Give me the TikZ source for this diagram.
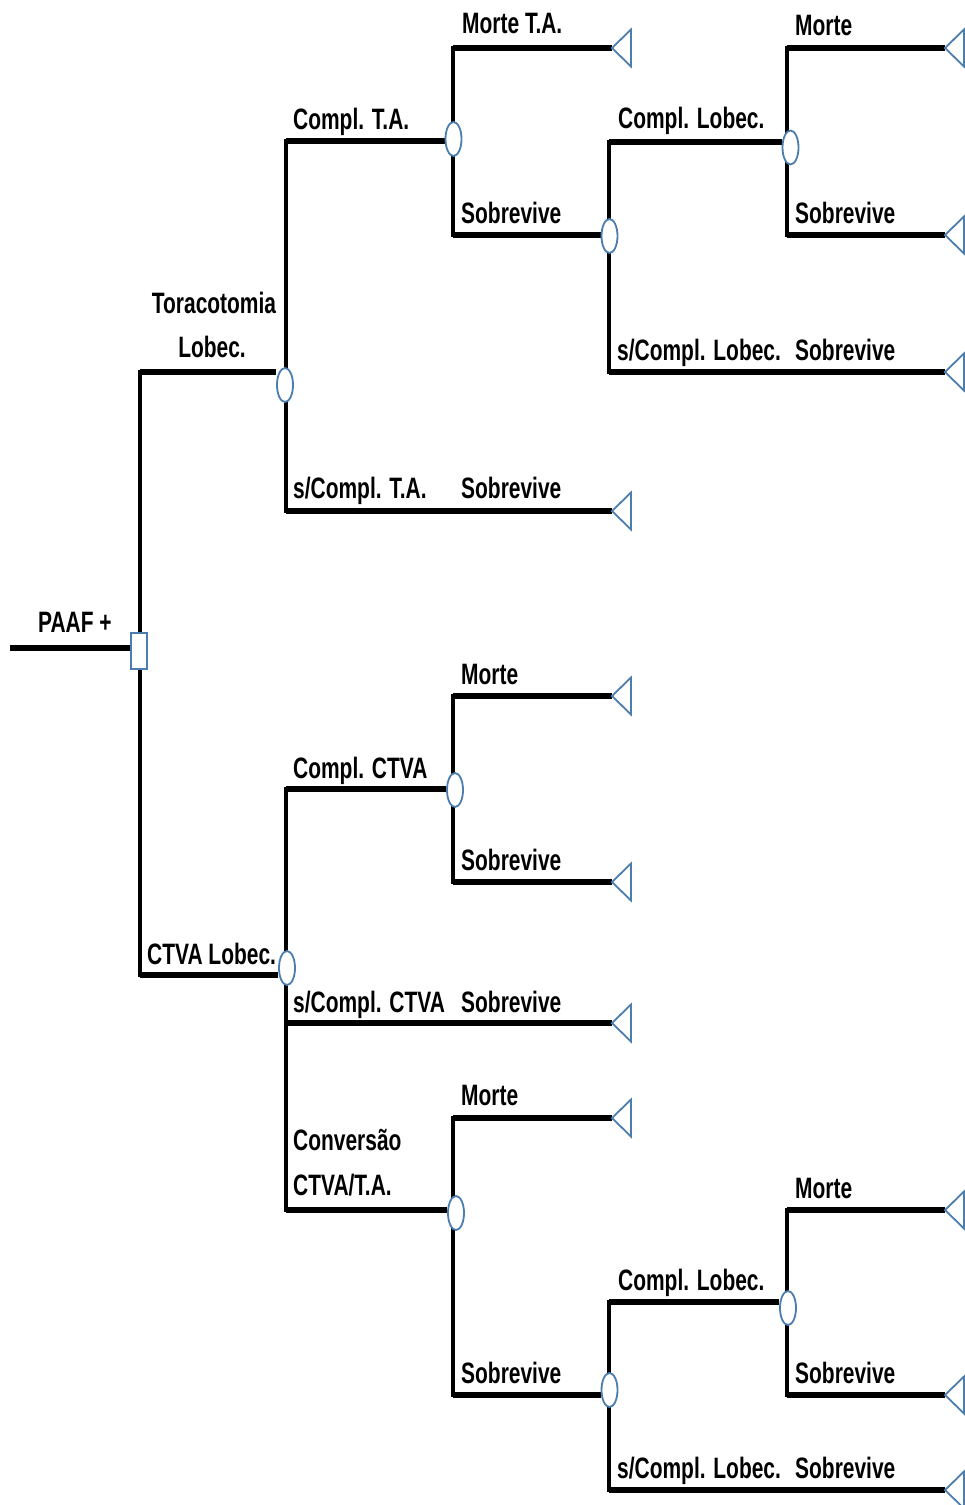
\documentclass[tikz,border=0pt]{standalone}
\usepackage{fontspec}
\newfontfamily\lblfont{Liberation Sans Bold}[FakeStretch=0.71]
\usetikzlibrary{shapes.geometric,backgrounds}
\definecolor{nodeblue}{RGB}{75,125,175}
\tikzset{
  hl/.style={line width=5.5pt},
  vl/.style={line width=4pt,line cap=rect},
  chance/.style={ellipse,draw=nodeblue,line width=1.8pt,fill=white,minimum width=16pt,minimum height=34pt,inner sep=0pt},
  decision/.style={rectangle,draw=nodeblue,line width=1.8pt,fill=white,minimum width=16pt,minimum height=36pt,inner sep=0pt},
  term/.style={draw=nodeblue,line width=1.8pt,line join=miter},
  lbl/.style={anchor=base west,inner sep=0pt,font=\lblfont\fontsize{29.5pt}{34pt}\selectfont},
  lblc/.style={lbl,anchor=base}
}
\begin{document}
\begin{tikzpicture}[x=1pt,y=-1pt]
\useasboundingbox (0,0) rectangle (965,1505);
% nodes
\node[decision] (d0) at (139,651) {};
\node[chance] (c1) at (285,385) {};
\node[chance] (c2) at (453.5,139) {};
\node[chance] (c3) at (609.5,236) {};
\node[chance] (c4) at (790.5,147.5) {};
\node[chance] (c5) at (287,968) {};
\node[chance] (c6) at (455,790) {};
\node[chance] (c7) at (456,1213) {};
\node[chance] (c8) at (609.5,1390) {};
\node[chance] (c9) at (788,1308) {};
% terminal tips
\coordinate (tmta) at (612,48);
\coordinate (tm1) at (945,48);
\coordinate (ts1) at (945,235);
\coordinate (ts2) at (945,372);
\coordinate (ts3) at (612,511);
\coordinate (tm2) at (612,696);
\coordinate (ts4) at (612,882);
\coordinate (ts5) at (612,1023);
\coordinate (tm3) at (612,1118);
\coordinate (tm4) at (945,1210);
\coordinate (ts6) at (945,1395);
\coordinate (ts7) at (945,1490);
\foreach \t in {tmta,tm1,ts1,ts2,ts3,tm2,ts4,ts5,tm3,tm4,ts6,ts7}
  \draw[term] (\t) -- ++(19,-18.5) -- ++(0,37) -- cycle;
% corners
\coordinate (r0) at (10,648);
\coordinate (k1) at (140,372);
\coordinate (k2) at (140,975);
\coordinate (k3) at (286,141);
\coordinate (k4) at (286,511);
\coordinate (k5) at (453,48);
\coordinate (k6) at (453,235);
\coordinate (k7) at (609,142);
\coordinate (k8) at (609,372);
\coordinate (k9) at (787,48);
\coordinate (k10) at (787,235);
\coordinate (k11) at (286,789);
\coordinate (k12) at (286,1023);
\coordinate (k13) at (286,1210);
\coordinate (k14) at (453,696);
\coordinate (k15) at (453,882);
\coordinate (k16) at (453,1118);
\coordinate (k17) at (453,1395);
\coordinate (k18) at (609,1302);
\coordinate (k19) at (609,1490);
\coordinate (k20) at (787,1210);
\coordinate (k21) at (787,1395);
\begin{scope}[on background layer]
\draw[hl] (r0) -- (r0 -| d0.west);
\draw[vl] (k1) -- (k2);
\draw[hl] (k1) -- (k1 -| c1.west);
\draw[hl] (k2) -- (k2 -| c5.west);
\draw[vl] (k3) -- (k4);
\draw[hl] (k3) -- (k3 -| c2.west);
\draw[hl] (k4) -- (ts3);
\draw[vl] (k5) -- (k6);
\draw[hl] (k5) -- (tmta);
\draw[hl] (k6) -- (k6 -| c3.west);
\draw[vl] (k7) -- (k8);
\draw[hl] (k7) -- (k7 -| c4.west);
\draw[hl] (k8) -- (ts2);
\draw[vl] (k9) -- (k10);
\draw[hl] (k9) -- (tm1);
\draw[hl] (k10) -- (ts1);
\draw[vl] (k11) -- (k13);
\draw[hl] (k11) -- (k11 -| c6.west);
\draw[hl] (k12) -- (ts5);
\draw[hl] (k13) -- (k13 -| c7.west);
\draw[vl] (k14) -- (k15);
\draw[hl] (k14) -- (tm2);
\draw[hl] (k15) -- (ts4);
\draw[vl] (k16) -- (k17);
\draw[hl] (k16) -- (tm3);
\draw[hl] (k17) -- (k17 -| c8.west);
\draw[vl] (k18) -- (k19);
\draw[hl] (k18) -- (k18 -| c9.west);
\draw[hl] (k19) -- (ts7);
\draw[vl] (k20) -- (k21);
\draw[hl] (k20) -- (tm4);
\draw[hl] (k21) -- (ts6);
\end{scope}
% labels
\node[lbl] (l0) at (38,632) {PAAF +};
\node[lblc] (l1) at (214,313) {Toracotomia};
\node[lblc] (l2) at (212,357) {Lobec.};
\node[lbl] (l3) at (293,129) {Compl. T.A.};
\node[lbl] (l4) at (462,33) {Morte T.A.};
\node[lbl] (l5) at (461,223) {Sobrevive};
\node[lbl] (l6) at (618,128) {Compl. Lobec.};
\node[lbl] (l7) at (795,35) {Morte};
\node[lbl] (l8) at (795,223) {Sobrevive};
\node[lbl] (l9) at (617,360) {s/Compl. Lobec.};
\node[lbl] (l10) at (795,360) {Sobrevive};
\node[lbl] (l11) at (293,498) {s/Compl. T.A.};
\node[lbl] (l12) at (461,498) {Sobrevive};
\node[lbl] (l13) at (461,684) {Morte};
\node[lbl] (l14) at (293,778) {Compl. CTVA};
\node[lbl] (l15) at (461,870) {Sobrevive};
\node[lbl] (l16) at (147,964) {CTVA Lobec.};
\node[lbl] (l17) at (293,1012) {s/Compl. CTVA};
\node[lbl] (l18) at (461,1012) {Sobrevive};
\node[lbl] (l19) at (461,1105) {Morte};
\node[lbl] (l20) at (293,1150) {Conversão};
\node[lbl] (l21) at (293,1195) {CTVA/T.A.};
\node[lbl] (l22) at (795,1198) {Morte};
\node[lbl] (l23) at (618,1290) {Compl. Lobec.};
\node[lbl] (l24) at (461,1383) {Sobrevive};
\node[lbl] (l25) at (795,1383) {Sobrevive};
\node[lbl] (l26) at (617,1478) {s/Compl. Lobec.};
\node[lbl] (l27) at (795,1478) {Sobrevive};
\end{tikzpicture}
\end{document}
